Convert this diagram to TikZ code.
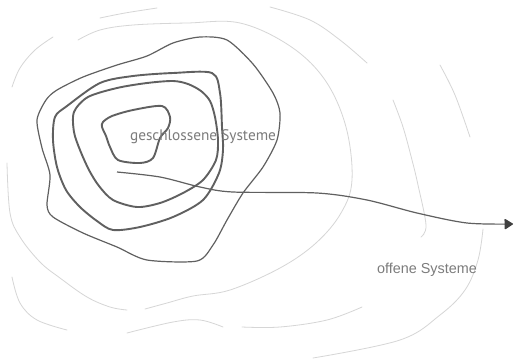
\documentclass[tikz,border=0pt]{standalone}
\usepackage{fontspec}
\setmainfont{Liberation Sans}
\newfontfamily\humsans{PT Sans}
\usetikzlibrary{arrows.meta}
\definecolor{darkline}{HTML}{606060}
\definecolor{tipcol}{HTML}{404040}
\definecolor{lightline}{HTML}{D6D6D6}
\definecolor{txtgray}{HTML}{7C7C7C}
\tikzset{
  ring/.style={draw=darkline, line width=1.9pt, line join=round},
  thinring/.style={draw=darkline, line width=1.2pt, line join=round},
  faint/.style={draw=lightline, line width=0.8pt, line cap=round},
  flow/.style={draw=darkline, line width=1.2pt, -{Triangle[length=9pt,width=11pt,round,fill=tipcol,color=tipcol]}},
  lbl/.style={text=txtgray, inner sep=0pt}
}
\begin{document}
\begin{tikzpicture}[x=1pt,y=-1pt]
\useasboundingbox[fill=white] (0,0) rectangle (514,360);
% innermost ring
\draw[ring] plot[smooth cycle, tension=0.5] coordinates {(103,122) (112,116) (133,110) (162,106) (170,117) (168,128) (160,138) (153,158) (140,163) (118,160) (110,147) (106,136) (102,127)};
% second ring
\draw[ring] plot[smooth cycle, tension=0.5] coordinates {(74,112) (88,97) (117,88) (147,83) (173,81) (188,84) (201,91) (210,101) (215,117) (218,140) (216,160) (203,180) (183,193) (160,203) (137,207) (113,200) (99,186) (89,170) (80,150) (74,132)};
% third ring
\draw[ring] plot[smooth cycle, tension=0.5] coordinates {(55,117) (67,106) (100,83) (133,76) (173,73) (212,73) (220,93) (222,127) (223,150) (219,173) (203,200) (173,217) (140,227) (113,230) (97,221) (80,207) (66,190) (57,167) (53,140)};
% outer thin dark ring
\draw[thinring] plot[smooth cycle, tension=0.45] coordinates {(37,120) (46,100) (57,90) (83,77) (117,65) (147,56) (173,43) (200,37) (227,40) (253,64) (273,93) (280,113) (277,140) (263,167) (243,193) (227,220) (213,245) (197,261) (147,260) (117,247) (83,233) (53,217) (47,205) (50,175) (42,148)};
% light rings (middle)
\draw[faint] plot[smooth, tension=0.6] coordinates {(12,87) (20,68) (35,50) (53,37)};
\draw[faint] plot[smooth, tension=0.6] coordinates {(78,40) (100,30) (133,25) (187,23) (240,23) (290,46) (325,80) (346,127) (352,180) (341,213) (316,243) (280,268) (230,290) (193,296) (167,303) (145,309)};
\draw[faint] plot[smooth, tension=0.6] coordinates {(127,310) (110,307) (87,297) (60,278) (40,262) (20,237) (10,213) (7,163)};
% light rings (outer)
\draw[faint] plot[smooth, tension=0.6] coordinates {(100,18) (125,13) (157,8)};
\draw[faint] plot[smooth, tension=0.6] coordinates {(270,7) (310,20) (340,40) (367,63)};
\draw[faint] plot[smooth, tension=0.6] coordinates {(393,100) (403,127) (412,160) (418,185) (426,225) (421,237)};
\draw[faint] plot[smooth, tension=0.6] coordinates {(440,65) (455,95) (470,137)};
\draw[faint] plot[smooth, tension=0.6] coordinates {(483,229) (478,260) (465,290) (440,315) (400,340) (313,358)};
\draw[faint] plot[smooth, tension=0.6] coordinates {(12,277) (20,303) (37,320) (67,330)};
\draw[faint] plot[smooth, tension=0.6] coordinates {(127,333) (173,322) (200,320) (223,327)};
\draw[faint] plot[smooth, tension=0.6] coordinates {(242,327) (280,327) (327,320) (362,307)};
% labels
\node[lbl, font=\humsans\fontsize{15.3}{17}\selectfont] (closed) at (203,137) {geschlossene Systeme};
\node[lbl, font=\fontsize{14.4}{16}\selectfont] (open) at (427,270) {offene Systeme};
% flow arrow
\coordinate (start) at (117,172);
\coordinate (tip) at (513,224);
\draw[flow] plot[smooth, tension=0.5] coordinates {(start) (160,177) (200,187) (233,192) (317,193) (367,200) (417,213) (467,223) (tip)};
\end{tikzpicture}
\end{document}
